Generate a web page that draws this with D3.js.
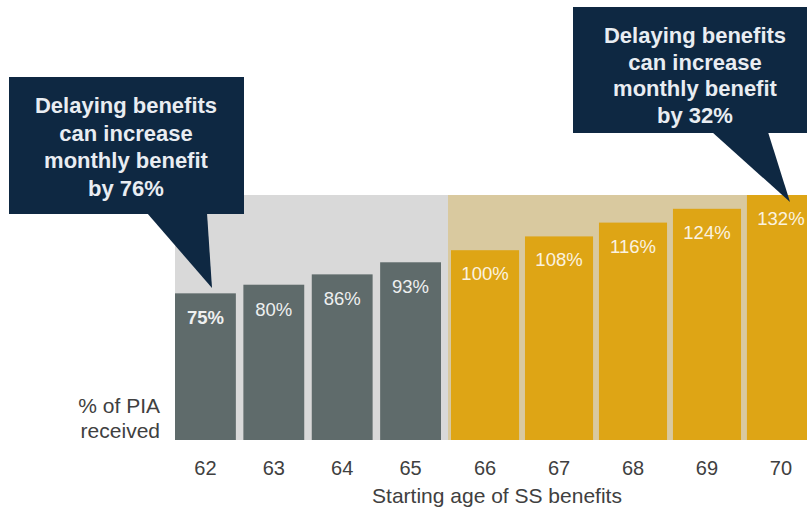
<!DOCTYPE html>
<html><head><meta charset="utf-8">
<script src="https://cdn.jsdelivr.net/npm/d3@7"></script>
<style>
html,body{margin:0;padding:0;background:#fff;}
svg{display:block;font-family:"Liberation Sans",Arial,sans-serif;}
</style></head>
<body><svg id="c" width="807" height="514"></svg>
<script>
// ---- data ----
const earlyAges = ["62","63","64","65"];
const earlyValues = [75, 80, 86, 93];
const lateAges = ["66","67","68","69","70"];
const lateValues = [100, 108, 116, 124, 132];
const maxValue = 132;
const yAxisLabel = ["% of PIA", "received"];
const xAxisTitle = "Starting age of SS benefits";
const calloutLeft = ["Delaying benefits", "can increase", "monthly benefit", "by 76%"];
const calloutRight = ["Delaying benefits", "can increase", "monthly benefit", "by 32%"];

const svg = d3.select("#c");
const W = 807, H = 514;
const baseY = 440, topY = 195;

const y = d3.scaleLinear().domain([-10, maxValue]).range([baseY, topY]);
const xEarly = d3.scaleBand().domain(earlyAges).range([175, 441]).paddingInner(0.11).paddingOuter(0);
const xLate = d3.scaleBand().domain(lateAges).range([451, 815]).paddingInner(0.08).paddingOuter(0);

const early = earlyAges.map((a,i)=>({age:a, v:earlyValues[i]}));
const late = lateAges.map((a,i)=>({age:a, v:lateValues[i]}));

// background panels
svg.append("rect").attr("x",175).attr("y",y(maxValue)).attr("width",273).attr("height",baseY - y(maxValue)).attr("fill","#d9d9d9");
svg.append("rect").attr("x",448).attr("y",y(maxValue)).attr("width",W-448).attr("height",baseY - y(maxValue)).attr("fill","#d9c99f");

// bars
svg.append("g").selectAll("rect").data(early).join("rect")
  .attr("x",d=>xEarly(d.age)).attr("y",d=>y(d.v))
  .attr("width",xEarly.bandwidth()).attr("height",d=>baseY - y(d.v))
  .attr("fill","#5f6b6b");
svg.append("g").selectAll("rect").data(late).join("rect")
  .attr("x",d=>xLate(d.age)).attr("y",d=>y(d.v))
  .attr("width",xLate.bandwidth()).attr("height",d=>baseY - y(d.v))
  .attr("fill","#dea515");

// value labels
svg.append("g").selectAll("text").data(early).join("text")
  .attr("x",d=>xEarly(d.age)+xEarly.bandwidth()/2).attr("y",d=>y(d.v)+31)
  .attr("text-anchor","middle").attr("font-size",18.5).attr("fill","#eef0f0")
  .attr("font-weight",(d,i)=>i===0?"bold":"normal")
  .text(d=>d.v+"%");
svg.append("g").selectAll("text").data(late).join("text")
  .attr("x",d=>xLate(d.age)+xLate.bandwidth()/2).attr("y",d=>y(d.v)+30)
  .attr("text-anchor","middle").attr("font-size",18.5).attr("fill","#fbf3e0")
  .text(d=>d.v+"%");

// x axes (tick labels only)
const axE = svg.append("g").attr("transform",`translate(0,${baseY})`)
  .call(d3.axisBottom(xEarly).tickSize(0).tickPadding(35));
const axL = svg.append("g").attr("transform",`translate(0,${baseY})`)
  .call(d3.axisBottom(xLate).tickSize(0).tickPadding(35));
[axE, axL].forEach(g=>{
  g.select(".domain").remove();
  g.selectAll("text").attr("font-size",20).attr("fill","#404040")
    .attr("font-family","'Liberation Sans',Arial,sans-serif").attr("dy",0);
});

// axis title
svg.append("text").attr("x",497).attr("y",503).attr("text-anchor","middle")
  .attr("font-size",21).attr("fill","#404040").text(xAxisTitle);

// y label
svg.append("text").attr("x",160).attr("y",413).attr("text-anchor","end")
  .attr("font-size",21).attr("fill","#404040")
  .selectAll("tspan").data(yAxisLabel).join("tspan")
  .attr("x",160).attr("dy",(d,i)=>i===0?0:25).text(d=>d);

// callouts
function callout(box, tri, lines, cx, firstY, step) {
  const g = svg.append("g");
  g.append("rect").attr("x",box[0]).attr("y",box[1]).attr("width",box[2]).attr("height",box[3]).attr("fill","#0e2842");
  g.append("path").attr("d", d3.line()(tri)).attr("fill","#0e2842");
  g.append("g").selectAll("text").data(lines).join("text")
    .attr("x",cx).attr("y",(d,i)=>firstY + i*step)
    .attr("text-anchor","middle").attr("font-size",22).attr("font-weight","bold")
    .attr("fill","#e9edf2").text(d=>d);
}
callout([9,77,235,137], [[147,213],[207,213],[212,288]], calloutLeft, 126, 113, 27.6);
callout([573,7,240,126], [[712,132],[768,132],[790,202]], calloutRight, 695, 43, 26.7);
</script></body></html>
